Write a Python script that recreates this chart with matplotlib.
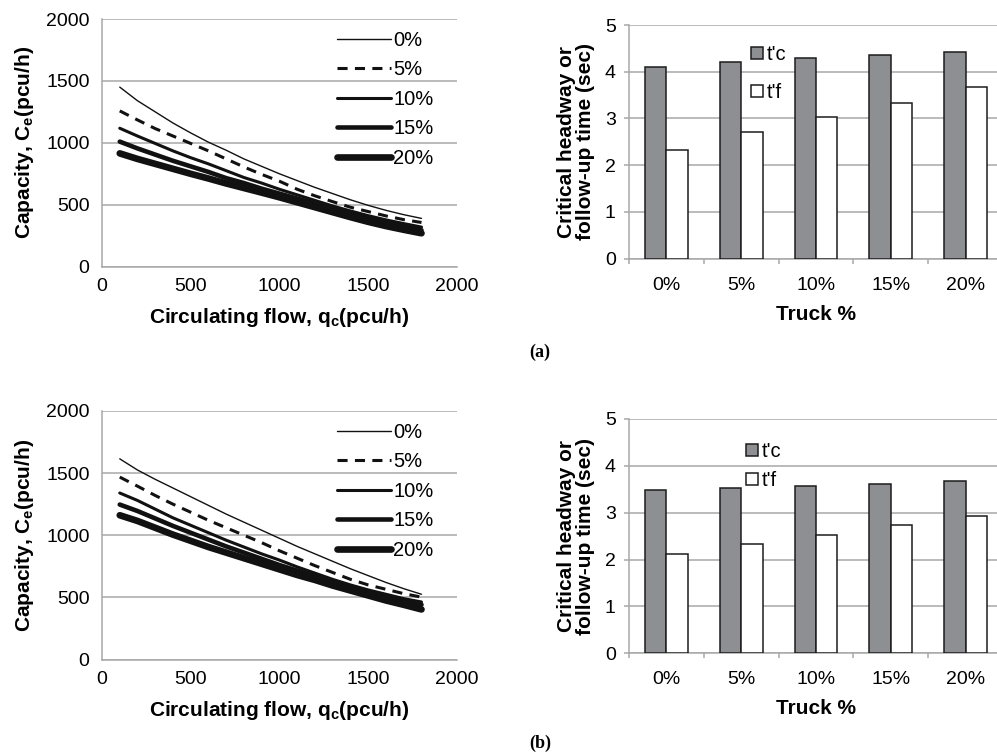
import matplotlib
matplotlib.use("Agg")
import matplotlib.pyplot as plt
from matplotlib.patches import Patch
import numpy as np

plt.rcParams['font.family'] = ['Liberation Sans', 'DejaVu Sans']

# ---------------- data ----------------
flow = [100, 200, 300, 400, 500, 600, 700, 800, 900, 1000,
        1100, 1200, 1300, 1400, 1500, 1600, 1700, 1800]
truck_labels = ['0%', '5%', '10%', '15%', '20%']

cap_a_0 = [1450, 1340, 1250, 1160, 1080, 1005, 940, 870, 810, 750,
           695, 640, 590, 540, 495, 455, 420, 390]
cap_a_5 = [1258, 1185, 1115, 1055, 995, 935, 870, 805, 745, 690,
           625, 572, 525, 480, 445, 410, 380, 357]
cap_a_10 = [1118, 1055, 995, 935, 880, 830, 775, 720, 675, 625,
            580, 535, 490, 450, 412, 378, 348, 320]
cap_a_15 = [1010, 955, 905, 855, 810, 765, 715, 675, 630, 590,
            550, 510, 470, 435, 398, 360, 325, 295]
cap_a_20 = [915, 870, 830, 790, 750, 712, 672, 635, 598, 560,
            520, 480, 440, 400, 362, 328, 298, 270]

cap_b_0 = [1615, 1525, 1450, 1380, 1310, 1240, 1170, 1105, 1040, 975,
           910, 850, 790, 730, 675, 620, 570, 525]
cap_b_5 = [1468, 1395, 1320, 1250, 1185, 1120, 1060, 1000, 940, 875,
           815, 755, 700, 645, 600, 565, 530, 502]
cap_b_10 = [1340, 1280, 1210, 1140, 1080, 1020, 960, 905, 850, 800,
            745, 695, 645, 600, 560, 525, 490, 463]
cap_b_15 = [1247, 1195, 1135, 1075, 1020, 965, 910, 860, 810, 760,
            715, 670, 625, 580, 540, 505, 470, 441]
cap_b_20 = [1161, 1115, 1060, 1005, 955, 905, 860, 815, 770, 725,
            680, 640, 595, 555, 515, 475, 440, 403]

tc_a = [4.11, 4.20, 4.29, 4.36, 4.42]
tf_a = [2.32, 2.70, 3.03, 3.34, 3.68]
tc_b = [3.48, 3.52, 3.58, 3.61, 3.68]
tf_b = [2.12, 2.33, 2.53, 2.74, 2.94]

# ---------------- styling ----------------
W, H = 997, 756
fig = plt.figure(figsize=(W / 100, H / 100), dpi=100)
GRID = '#a8a8a8'
TICKFS = 14
LEGFS = 14.5
LABFS = 15

def fx(px):
    return px / W

def fy(py):
    return 1 - py / H

line_styles = [
    dict(lw=1.0, ls='-'),
    dict(lw=2.2, ls=(0, (3.3, 2.4))),
    dict(lw=2.2, ls='-'),
    dict(lw=3.3, ls='-'),
    dict(lw=4.8, ls='-'),
]

def line_panel(rect, series, legend_top):
    ax = fig.add_axes(rect)
    for vals, st, lab in zip(series, line_styles, truck_labels):
        ax.plot(flow, vals, color='#111111', lw=st['lw'], linestyle=st['ls'],
                solid_capstyle='round', dash_capstyle='butt', label=lab)
    ax.set_xlim(0, 2000)
    ax.set_ylim(0, 2000)
    ax.set_xticks([0, 500, 1000, 1500, 2000])
    ax.set_yticks([0, 500, 1000, 1500, 2000])
    ax.grid(axis='y', color=GRID, lw=1.1)
    ax.set_axisbelow(True)
    for s in ['top', 'right']:
        ax.spines[s].set_visible(False)
    for s in ['left', 'bottom']:
        ax.spines[s].set_color(GRID)
        ax.spines[s].set_linewidth(1.1)
    ax.tick_params(axis='both', length=0, labelsize=TICKFS, colors='black')
    ax.tick_params(axis='y', pad=9)
    ax.tick_params(axis='x', pad=8)
    ax.set_xlabel('Circulating flow, q$_\\mathregular{c}$(pcu/h)', fontsize=LABFS,
                  fontweight='bold', labelpad=8)
    ax.set_ylabel('Capacity, C$_\\mathregular{e}$(pcu/h)', fontsize=LABFS,
                  fontweight='bold', labelpad=7)
    ax.legend(loc='upper left', bbox_to_anchor=(fx(337), fy(legend_top)),
              bbox_transform=fig.transFigure, frameon=False,
              fontsize=LEGFS, handlelength=2.7, handletextpad=0.1,
              labelspacing=0.52, borderpad=0, borderaxespad=0)
    return ax

def bar_panel(rect, tc, tf, legend_x, legend_top, spacing):
    ax = fig.add_axes(rect)
    x = np.arange(len(truck_labels))
    w = 0.287
    ax.bar(x - w / 2, tc, width=w, color='#8e8f93', edgecolor='#1c1c1c', lw=1.1,
           label="t'c", zorder=3)
    ax.bar(x + w / 2, tf, width=w, color='white', edgecolor='#1c1c1c', lw=1.1,
           label="t'f", zorder=3)
    ax.set_xlim(-0.5, 4.5)
    ax.set_ylim(0, 5)
    ax.set_yticks([0, 1, 2, 3, 4, 5])
    ax.set_xticks(x)
    ax.set_xticklabels(truck_labels)
    ax.set_xticks(np.arange(-0.5, 5.0, 1.0), minor=True)
    ax.grid(axis='y', color=GRID, lw=1.1)
    ax.set_axisbelow(True)
    for s in ['top', 'right']:
        ax.spines[s].set_visible(False)
    for s in ['left', 'bottom']:
        ax.spines[s].set_color(GRID)
        ax.spines[s].set_linewidth(1.1)
    ax.tick_params(axis='y', length=3.5, width=1.1, color=GRID, labelsize=TICKFS, pad=6)
    ax.tick_params(axis='x', which='major', length=0, labelsize=TICKFS, pad=13)
    ax.tick_params(axis='x', which='minor', length=3.5, width=1.1, color=GRID)
    ax.set_xlabel('Truck %', fontsize=LABFS, fontweight='bold', labelpad=8)
    ax.set_ylabel('Critical headway or\nfollow-up time (sec)', fontsize=LABFS,
                  fontweight='bold', labelpad=7, linespacing=1.0)
    handles = [Patch(facecolor='#8e8f93', edgecolor='#1c1c1c', lw=1.1),
               Patch(facecolor='white', edgecolor='#1c1c1c', lw=1.1)]
    ax.legend(handles, ["t'c", "t'f"], loc='upper left',
              bbox_to_anchor=(fx(legend_x), fy(legend_top)),
              bbox_transform=fig.transFigure, frameon=False, fontsize=LEGFS,
              handlelength=0.6, handleheight=0.6, handletextpad=0.2,
              labelspacing=spacing, borderpad=0, borderaxespad=0)
    return ax

line_panel([fx(102), fy(266.7), fx(457) - fx(102), fy(19) - fy(266.7)],
           [cap_a_0, cap_a_5, cap_a_10, cap_a_15, cap_a_20], 31)
bar_panel([fx(629), fy(258.5), fx(1003) - fx(629), fy(25) - fy(258.5)],
          tc_a, tf_a, 751, 45, 0.95)
line_panel([fx(102), fy(659.5), fx(457) - fx(102), fy(411) - fy(659.5)],
           [cap_b_0, cap_b_5, cap_b_10, cap_b_15, cap_b_20], 423)
bar_panel([fx(629), fy(653.3), fx(1003) - fx(629), fy(419) - fy(653.3)],
          tc_b, tf_b, 746, 442, 0.5)

fig.text(fx(540), fy(352), '(a)', ha='center', va='center', fontsize=13,
         fontweight='bold', family=['Liberation Serif', 'DejaVu Serif'])
fig.text(fx(540), fy(743), '(b)', ha='center', va='center', fontsize=13,
         fontweight='bold', family=['Liberation Serif', 'DejaVu Serif'])

fig.savefig('out.png', dpi=100)
